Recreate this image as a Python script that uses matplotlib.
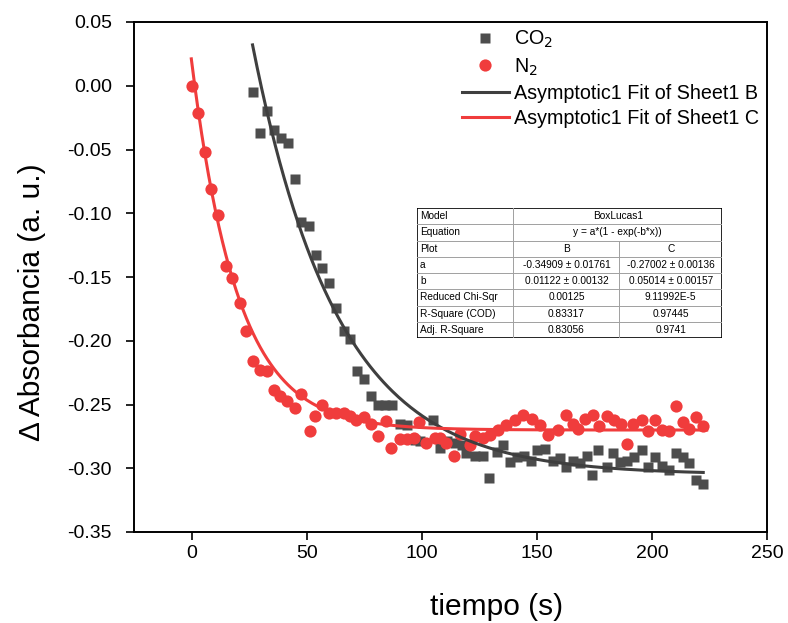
import numpy as np
import matplotlib
matplotlib.use("Agg")
import matplotlib.pyplot as plt

plt.rcParams["font.family"] = ["Liberation Sans", "DejaVu Sans"]
plt.rcParams["axes.unicode_minus"] = False

# CO2 (columna B)
t_co2 = [26.7, 29.9, 32.7, 35.8, 38.7, 41.9, 44.8, 47.7, 50.9, 53.9,
         56.8, 59.7, 62.9, 66.1, 69.0, 71.9, 74.8, 78.1, 81.0, 83.9,
         87.3, 90.4, 93.6, 97.0, 99.1, 104.9, 107.8, 111.0, 114.3, 117.3,
         119.4, 123.0, 126.7, 129.3, 132.5, 135.3, 138.3, 141.4, 144.3, 147.3,
         150.1, 153.5, 157.1, 160.0, 162.6, 165.8, 168.7, 171.6, 173.8, 176.7,
         180.3, 183.2, 186.1, 189.3, 192.2, 195.5, 198.4, 201.3, 204.2, 207.4,
         210.4, 213.6, 216.2, 219.1, 222.3]
abs_co2 = [-0.005, -0.037, -0.020, -0.035, -0.041, -0.045, -0.073, -0.107, -0.110, -0.133,
           -0.143, -0.155, -0.174, -0.192, -0.199, -0.224, -0.230, -0.243, -0.250, -0.250,
           -0.250, -0.265, -0.266, -0.278, -0.279, -0.262, -0.284, -0.279, -0.280, -0.282,
           -0.288, -0.290, -0.290, -0.308, -0.287, -0.282, -0.295, -0.291, -0.290, -0.294,
           -0.286, -0.285, -0.294, -0.292, -0.299, -0.294, -0.296, -0.290, -0.305, -0.286,
           -0.299, -0.288, -0.295, -0.294, -0.291, -0.286, -0.299, -0.291, -0.298, -0.301,
           -0.288, -0.291, -0.296, -0.309, -0.312]

# N2 (columna C)
t_n2 = [0.0, 2.7, 5.7, 8.6, 11.7, 14.8, 17.7, 20.9, 23.8, 26.7,
        29.6, 32.9, 35.7, 38.3, 41.4, 44.8, 47.7, 51.3, 53.5, 56.8,
        59.7, 62.9, 66.1, 69.0, 71.6, 74.8, 78.1, 80.9, 84.3, 86.8,
        90.4, 93.5, 96.5, 98.8, 102.0, 105.6, 107.8, 110.7, 114.0, 116.5,
        120.9, 123.0, 126.6, 129.6, 133.2, 136.8, 140.4, 144.0, 147.7, 151.3,
        154.9, 159.3, 162.6, 165.8, 168.0, 170.9, 174.5, 177.0, 180.3, 183.5,
        186.4, 189.3, 191.9, 195.5, 198.4, 201.3, 204.2, 207.4, 210.4, 213.3,
        216.2, 219.1, 222.3]
abs_n2 = [0.000, -0.021, -0.052, -0.081, -0.101, -0.141, -0.151, -0.170, -0.192, -0.216,
          -0.223, -0.224, -0.239, -0.243, -0.247, -0.253, -0.242, -0.271, -0.259, -0.250,
          -0.257, -0.257, -0.257, -0.259, -0.262, -0.260, -0.265, -0.275, -0.263, -0.284,
          -0.277, -0.277, -0.276, -0.264, -0.280, -0.276, -0.276, -0.280, -0.290, -0.273,
          -0.282, -0.275, -0.276, -0.274, -0.270, -0.266, -0.262, -0.258, -0.261, -0.266,
          -0.274, -0.270, -0.258, -0.265, -0.269, -0.261, -0.258, -0.267, -0.259, -0.262,
          -0.265, -0.281, -0.265, -0.262, -0.271, -0.262, -0.270, -0.271, -0.251, -0.264,
          -0.269, -0.260, -0.267]

# curvas de ajuste y = a*(1 - exp(-b*(t - t0)))
a_co2, b_co2, t0_co2 = -0.305, 0.027, 30.2
a_n2, b_n2, t0_n2 = -0.27002, 0.05014, 1.4
tfit_co2 = (26.5, 222.3)
tfit_n2 = (-0.1, 223.8)

x_ticks = [0, 50, 100, 150, 200, 250]
y_ticks = [-0.35, -0.30, -0.25, -0.20, -0.15, -0.10, -0.05, 0.00, 0.05]

# tabla de resultados del ajuste
tab_rows = ["Model", "Equation", "Plot", "a", "b",
            "Reduced Chi-Sqr", "R-Square (COD)", "Adj. R-Square"]
tab_b = ["B", "-0.34909 ± 0.01761", "0.01122 ± 0.00132", "0.00125", "0.83317", "0.83056"]
tab_c = ["C", "-0.27002 ± 0.00136", "0.05014 ± 0.00157", "9.11992E-5", "0.97445", "0.9741"]
tab_model = "BoxLucas1"
tab_eq = "y = a*(1 - exp(-b*x))"

c_co2 = "#4d4d4d"
c_n2 = "#f03c3c"


def box_lucas(t, a, b, t0):
    return a * (1 - np.exp(-b * (t - t0)))


W, H = 788, 623
fig = plt.figure(figsize=(W / 100, H / 100), dpi=100)
ax = fig.add_axes([134 / W, 1 - 532 / H, (767 - 134) / W, (532 - 22) / H])

ax.plot(t_co2, abs_co2, "s", color=c_co2, ms=7.6, mec="none", label="CO$_2$")
ax.plot(t_n2, abs_n2, "o", color=c_n2, ms=8.8, mec="none", label="N$_2$")

tt = np.linspace(*tfit_co2, 300)
ax.plot(tt, box_lucas(tt, a_co2, b_co2, t0_co2), color="#3f3f3f", lw=2.2,
        label="Asymptotic1 Fit of Sheet1 B")
tt = np.linspace(*tfit_n2, 300)
ax.plot(tt, box_lucas(tt, a_n2, b_n2, t0_n2), color=c_n2, lw=2.2,
        label="Asymptotic1 Fit of Sheet1 C")

ax.set_xlim(-25, 250)
ax.set_ylim(-0.35, 0.05)
ax.set_xticks(x_ticks)
ax.set_yticks(y_ticks)
ax.yaxis.set_major_formatter(plt.FuncFormatter(lambda v, p: f"{round(v, 2) + 0:.2f}"))
ax.tick_params(labelsize=14, width=1.2, length=6, direction="out")
ax.tick_params(axis="y", pad=10)
ax.tick_params(top=False, right=False)
for s in ax.spines.values():
    s.set_linewidth(1.4)

# títulos de ejes colocados en píxeles de la figura
fig.text(497 / W, 1 - 607 / H, "tiempo (s)", fontsize=21.5, ha="center", va="center")
fig.text(32 / W, 1 - 302 / H, "Δ Absorbancia (a. u.)", fontsize=21.5,
         ha="center", va="center", rotation=90)

ax.legend(loc="upper right", bbox_to_anchor=(1.009, 1.013), frameon=False,
          fontsize=14.2, handlelength=2.4, handletextpad=0.25,
          labelspacing=0.3, borderaxespad=0.3)

# tabla dibujada a mano (celdas combinadas en Model / Equation)
tx0, ty0, tw, th = 417, 208, 305, 130
tab = fig.add_axes([tx0 / W, 1 - (ty0 + th) / H, tw / W, th / H])
tab.set_xlim(0, tw)
tab.set_ylim(th, 0)
tab.axis("off")
col1, col2 = 96.5, 202.5
rh = th / 8
for i in range(1, 8):
    tab.plot([0, tw], [i * rh, i * rh], color="#a0a0a0", lw=0.7)
tab.plot([col1, col1], [0, th], color="#a0a0a0", lw=0.7)
tab.plot([col2, col2], [2 * rh, th], color="#a0a0a0", lw=0.7)
tab.add_patch(plt.Rectangle((0, 0), tw, th, fill=False, ec="black", lw=1.2))
fs = 7.3
for i, name in enumerate(tab_rows):
    tab.text(3, (i + 0.5) * rh, name, fontsize=fs, va="center", ha="left")
tab.text((col1 + tw) / 2, 0.5 * rh, tab_model, fontsize=fs, va="center", ha="center")
tab.text((col1 + tw) / 2, 1.5 * rh, tab_eq, fontsize=fs, va="center", ha="center")
for i in range(6):
    tab.text((col1 + col2) / 2, (i + 2.5) * rh, tab_b[i], fontsize=fs,
             va="center", ha="center")
    tab.text((col2 + tw) / 2, (i + 2.5) * rh, tab_c[i], fontsize=fs,
             va="center", ha="center")

fig.savefig("out.png", dpi=100)
